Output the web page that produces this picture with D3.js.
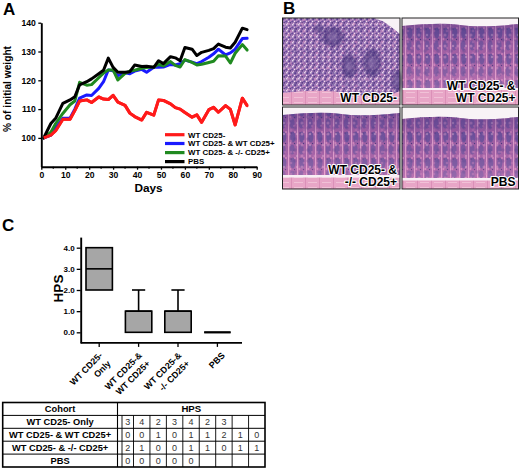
<!DOCTYPE html>
<html><head><meta charset="utf-8">
<script src="https://cdn.jsdelivr.net/npm/d3@7"></script>
<style>
body{margin:0;background:#fff}
svg{display:block}
text{font-family:"Liberation Sans",Arial,Helvetica,sans-serif}
</style>
</head><body>
<svg id="c" width="520" height="470"></svg>
<script>
// ---------- Panel A data ----------
const days      = [1,4,6,9,12,14,16,19,21,24,26,28,30,32,35,37,39,42,44,47,49,51,54,56,58,60,63,65,67,70,72,74,77,79,81,84,86];
const wtNeg     = [100,101,102.5,106.5,106.5,109.5,112.8,113.2,112.3,114.2,113.5,113.3,114.8,112.4,111.3,108.6,107.4,106.2,108.9,107.9,113.2,113,111.8,110.5,110,108.8,107.2,108,105.4,109.8,110.6,108.9,111.2,109.9,104.5,113.8,111.2];
const wtNegWtPos= [100,101,103.5,106.8,106.8,110,113.8,114.9,114.7,117.2,119.5,123.6,123.3,121.6,122.6,122.3,123.2,123.8,122.8,124.5,124.5,124.6,125.5,125.3,125.8,127,126.3,125.8,126.5,128,129.2,130.8,128.8,129.5,130.8,134.5,134.6];
const wtNegKoPos= [100,102,105,108.5,111.5,112.8,119.3,118.3,118.5,120.9,122.5,123.6,123.6,120.1,122.4,123.2,123.5,124.2,124.4,124.6,125.5,125,126.5,125.2,124.6,127.2,126.2,125.3,125.6,126.2,126.6,128.5,128.4,126,129.4,132.4,130.5];
const pbs       = [100,105,106.8,112,113.2,114.3,118.4,119.5,120.5,122.3,123.5,127.7,124.5,122.8,122.8,123,125.3,124.8,124.9,124.5,126.8,125.8,128.2,127.8,126.8,131.4,130.8,128.6,129.7,130.4,131,132.6,131.5,131.2,133.2,138.1,137.6];
const seriesNames = ["WT CD25-","WT CD25- & WT CD25+","WT CD25- & -/- CD25+","PBS"];
const seriesColors = ["#ff1a1a","#1a1aff","#208a20","#000000"];
const xTicksA = [0,10,20,30,40,50,60,70,80,90];
const yTicksA = [100,110,120,130,140];

// ---------- Panel B labels ----------
const histoLabels = [["WT CD25-"],["WT CD25- &","WT CD25+"],["WT CD25- &","-/- CD25+"],["PBS"]];

// ---------- Panel C data ----------
const boxLabels = [["WT CD25-","Only"],["WT CD25-&","WT CD25+"],["WT CD25-&","-/- CD25+"],["PBS"]];
const boxMin = [2,0,0,0];
const boxQ1  = [2,0,0,0];
const boxMed = [3,1,1,0];
const boxQ3  = [4,1,1,0];
const boxMax = [4,2,2,0];
const yTicksC = [0,1,2,3,4];

// ---------- Table data ----------
const tableCohorts = ["WT CD25- Only","WT CD25- & WT CD25+","WT CD25- & -/- CD25+","PBS"];
const tableHPS = [[3,4,2,3,4,2,3],[0,0,1,0,1,1,2,1,0],[2,1,0,0,1,1,0,1,1],[0,0,0,0,0]];

const svg = d3.select("#c");
const F = '"Liberation Sans",Arial,Helvetica,sans-serif';

// ================= Panel A =================
svg.append("text").attr("x",3).attr("y",15).attr("font-size",17).attr("font-weight","bold").text("A");
const xA = d3.scaleLinear().domain([0,90]).range([41.3,256.7]);
const yA = d3.scaleLinear().domain([90,140]).range([166.7,22.7]);

const gAy = svg.append("g").attr("transform","translate(41.3,0)")
  .call(d3.axisLeft(yA).tickValues(yTicksA).tickSize(3).tickSizeOuter(0).tickPadding(2.5));
const gAx = svg.append("g").attr("transform","translate(0,166.7)")
  .call(d3.axisBottom(xA).tickValues(xTicksA).tickSize(3).tickSizeOuter(0).tickPadding(2.5));
gAx.selectAll(".minor").data(d3.range(5,90,10)).enter().append("line")
  .attr("x1",d=>xA(d)).attr("x2",d=>xA(d)).attr("y1",0).attr("y2",2).attr("stroke","#000").attr("stroke-width",1.2);
[gAy,gAx].forEach(g=>{
  g.select(".domain").attr("stroke-width",1.9);
  g.selectAll(".tick line").attr("stroke-width",1.3);
  g.selectAll("text").attr("font-size",8.6).attr("font-weight","bold").attr("font-family",F).attr("fill","#000");
});
svg.append("text").attr("transform","translate(10.5,89) rotate(-90)").attr("text-anchor","middle")
  .attr("font-size",10.2).attr("font-weight","bold").text("% of initial weight");
svg.append("text").attr("x",148.5).attr("y",192).attr("text-anchor","middle")
  .attr("font-size",11.8).attr("font-weight","bold").text("Days");

const lineA = d3.line().x((d,i)=>xA(days[i])).y(d=>yA(d));
const allSeries = [wtNeg,wtNegWtPos,wtNegKoPos,pbs];
allSeries.forEach((s,k)=>{
  svg.append("path").attr("d",lineA(s)).attr("fill","none").attr("stroke",seriesColors[k])
    .attr("stroke-width",3).attr("stroke-linejoin","round").attr("stroke-linecap","round");
});
svg.append("path").attr("d",lineA(wtNeg)).attr("fill","none").attr("stroke",seriesColors[0])
  .attr("stroke-width",3).attr("stroke-linejoin","round");

const legY = [134.7,143.5,152.6,161.6];
seriesNames.forEach((n,k)=>{
  svg.append("line").attr("x1",165).attr("x2",184.5).attr("y1",legY[k]).attr("y2",legY[k])
    .attr("stroke",seriesColors[k]).attr("stroke-width",3.2);
  svg.append("text").attr("x",188).attr("y",legY[k]+2.8).attr("font-size",7.9).attr("font-weight","bold").text(n);
});

// ================= Panel B =================
svg.append("text").attr("x",283).attr("y",14).attr("font-size",17).attr("font-weight","bold").text("B");
const defs = svg.append("defs");
defs.append("filter").attr("id","soft").append("feGaussianBlur").attr("stdDeviation",0.45);
defs.append("filter").attr("id","blob").attr("x","-50%").attr("y","-50%").attr("width","200%").attr("height","200%")
  .append("feGaussianBlur").attr("stdDeviation",1.8);
const sp = defs.append("pattern").attr("id","speck").attr("width",6).attr("height",6).attr("patternUnits","userSpaceOnUse");
sp.append("rect").attr("width",6).attr("height",6).attr("fill","#9f78b6");
[[1.2,1.2,1,"#5a4090"],[4.2,3.4,1,"#684c9a"],[2.2,4.8,0.9,"#4f3680"],[4.8,0.8,0.75,"#fbf3f9"],[0.5,3.4,0.65,"#f5e4f0"],[3,2.3,0.5,"#dca6d0"],[5.4,5.4,0.55,"#efd2e8"]]
  .forEach(c=>sp.append("circle").attr("cx",c[0]).attr("cy",c[1]).attr("r",c[2]).attr("fill",c[3]));
const cr = defs.append("pattern").attr("id","crypt").attr("width",9).attr("height",26).attr("patternUnits","userSpaceOnUse");
cr.append("rect").attr("width",9).attr("height",26).attr("fill","#aa64a8");
cr.append("ellipse").attr("cx",4.8).attr("cy",7).attr("rx",2.6).attr("ry",5.5).attr("fill","#5f4f9c").attr("opacity",0.72);
cr.append("ellipse").attr("cx",4.2).attr("cy",19.5).attr("rx",2.4).attr("ry",5).attr("fill","#6e55a0").attr("opacity",0.72);
[[2.3,13,1,"#dc8ec2"],[7,2,0.9,"#dc8ec2"],[6.5,13.5,0.7,"#4a3880"],[3,3,0.7,"#4a3880"],[6,22,0.8,"#cf80b8"]]
  .forEach(c=>cr.append("circle").attr("cx",c[0]).attr("cy",c[1]).attr("r",c[2]).attr("fill",c[3]));
cr.append("rect").attr("x",0).attr("width",1.1).attr("height",26).attr("fill","#eaa6d0");
const mo = defs.append("pattern").attr("id","mottle").attr("width",13).attr("height",11).attr("patternUnits","userSpaceOnUse");
[[3,2,1.5,"#e6a0cc",0.5],[9,7,1.8,"#54428c",0.35],[11,2,1.2,"#f0c0dc",0.45],[5,9,1.3,"#cf84bd",0.45]]
  .forEach(c=>mo.append("circle").attr("cx",c[0]).attr("cy",c[1]).attr("r",c[2]).attr("fill",c[3]).attr("opacity",c[4]));
const mu = defs.append("pattern").attr("id","muscle").attr("width",14).attr("height",5).attr("patternUnits","userSpaceOnUse");
mu.append("rect").attr("width",14).attr("height",5).attr("fill","#e8a6c7");
mu.append("rect").attr("y",2).attr("width",9).attr("height",0.8).attr("fill","#f4c8dc");
mu.append("rect").attr("x",11).attr("width",0.8).attr("height",5).attr("fill","#d88ab4");
const gr = defs.append("linearGradient").attr("id","surf").attr("x1",0).attr("y1",0).attr("x2",0).attr("y2",1);
gr.append("stop").attr("offset","0%").attr("stop-color","#44307c").attr("stop-opacity",0.45);
gr.append("stop").attr("offset","35%").attr("stop-color","#44307c").attr("stop-opacity",0.1);
gr.append("stop").attr("offset","100%").attr("stop-color","#e9a0cc").attr("stop-opacity",0.25);

const panels = [
  {x:282.5,y:18,w:117.5,h:87},
  {x:402,y:18,w:116.5,h:87},
  {x:282.5,y:107,w:117.5,h:82},
  {x:402,y:107,w:116.5,h:82}
];
(function(){
  const p=panels[0], g=svg.append("g").attr("filter","url(#soft)");
  g.append("rect").attr("x",p.x).attr("y",p.y).attr("width",p.w).attr("height",p.h).attr("fill","url(#speck)");
  g.append("rect").attr("x",p.x).attr("y",p.y).attr("width",p.w).attr("height",p.h).attr("fill","url(#mottle)");
  g.append("path").attr("d",`M${p.x+92},${p.y} L${p.x+p.w},${p.y} L${p.x+p.w},${p.y+16} Q${p.x+108},${p.y+8} ${p.x+100},${p.y+3} Q${p.x+96},${p.y+2} ${p.x+92},${p.y}Z`).attr("fill","#f7f2f6");
  [[333,37,11,10],[349,66,8,12],[372,63,9,14],[397,81,5,11],[319,29,5,4]].forEach(e=>{
    g.append("ellipse").attr("cx",e[0]).attr("cy",e[1]).attr("rx",e[2]).attr("ry",e[3]).attr("fill","#45307a").attr("opacity",0.6).attr("filter","url(#blob)");
    g.append("ellipse").attr("cx",e[0]).attr("cy",e[1]).attr("rx",e[2]*0.45).attr("ry",e[3]*0.45).attr("fill","#9c80b8").attr("opacity",0.5).attr("filter","url(#blob)");
  });
  g.append("path").attr("d",`M${p.x},${p.y+75} Q${p.x+40},${p.y+70} ${p.x+70},${p.y+76} T${p.x+p.w},${p.y+73} L${p.x+p.w},${p.y+p.h} L${p.x},${p.y+p.h}Z`).attr("fill","url(#muscle)");
})();
function cryptPanel(p, topWhite, cryptEnd, whiteLine){
  const g=svg.append("g").attr("filter","url(#soft)");
  g.append("rect").attr("x",p.x).attr("y",p.y).attr("width",p.w).attr("height",p.h).attr("fill","url(#muscle)");
  g.append("rect").attr("x",p.x).attr("y",p.y).attr("width",p.w).attr("height",topWhite+3).attr("fill","#f8f3f6");
  const d=`M${p.x},${p.y+topWhite+2} Q${p.x+p.w/3},${p.y+topWhite-2} ${p.x+p.w/2},${p.y+topWhite+1} T${p.x+p.w},${p.y+topWhite} L${p.x+p.w},${p.y+cryptEnd} L${p.x},${p.y+cryptEnd}Z`;
  g.append("path").attr("d",d).attr("fill","url(#crypt)");
  g.append("path").attr("d",d).attr("fill","url(#mottle)");
  g.append("path").attr("d",d).attr("fill","url(#surf)");
  g.append("rect").attr("x",p.x).attr("y",p.y+cryptEnd).attr("width",p.w).attr("height",whiteLine).attr("fill","#f8eef4");
}
cryptPanel(panels[1],6,70,2);
cryptPanel(panels[2],6,68,2.5);
cryptPanel(panels[3],10,71,2.5);
panels.forEach(p=>svg.append("rect").attr("x",p.x).attr("y",p.y).attr("width",p.w).attr("height",p.h)
  .attr("fill","none").attr("stroke","#222").attr("stroke-width",1));
histoLabels.forEach((lines,k)=>{
  const p=panels[k];
  lines.forEach((t,j)=>{
    svg.append("text").attr("x",p.x+p.w-3).attr("y",p.y+p.h-3-(lines.length-1-j)*12.5)
      .attr("text-anchor","end").attr("font-size",12).attr("font-weight","bold")
      .attr("fill","#000").attr("stroke","#fff").attr("stroke-width",2).attr("paint-order","stroke")
      .attr("stroke-linejoin","round").text(t);
  });
});

// ================= Panel C =================
svg.append("text").attr("x",2).attr("y",231).attr("font-size",17).attr("font-weight","bold").text("C");
const xC = d3.scaleBand().domain(d3.range(boxLabels.length)).range([79.5,237.1]).paddingInner(0.33).paddingOuter(0.165);
const yC = d3.scaleLinear().domain([-0.5,4.5]).range([342.9,237.1]);
const gCy = svg.append("g").attr("transform","translate(80.7,0)")
  .call(d3.axisLeft(yC).tickValues(yTicksC).tickFormat(d3.format(".1f")).tickSize(4).tickSizeOuter(0).tickPadding(2));
const gCx = svg.append("g").attr("transform","translate(0,342.9)")
  .call(d3.axisBottom(xC).tickFormat("").tickSize(4).tickSizeOuter(0));
gCx.select(".domain").attr("d","M80.7,0H242");
[gCy,gCx].forEach(g=>{
  g.select(".domain").attr("stroke-width",1.9);
  g.selectAll(".tick line").attr("stroke-width",1.3);
  g.selectAll("text").attr("font-size",8).attr("font-weight","bold").attr("font-family",F).attr("fill","#000");
});
svg.append("text").attr("transform","translate(63,288.5) rotate(-90)").attr("text-anchor","middle")
  .attr("font-size",13.5).attr("font-weight","bold").text("HPS");

boxLabels.forEach((lines,i)=>{
  const cx = xC(i)+xC.bandwidth()/2, w = xC.bandwidth();
  const g = svg.append("g");
  g.append("line").attr("x1",cx).attr("x2",cx).attr("y1",yC(boxQ3[i])).attr("y2",yC(boxMax[i])).attr("stroke","#000").attr("stroke-width",1.6);
  g.append("line").attr("x1",cx).attr("x2",cx).attr("y1",yC(boxQ1[i])).attr("y2",yC(boxMin[i])).attr("stroke","#000").attr("stroke-width",1.6);
  if(boxMax[i]>boxQ3[i]) g.append("line").attr("x1",cx-w/4).attr("x2",cx+w/4).attr("y1",yC(boxMax[i])).attr("y2",yC(boxMax[i])).attr("stroke","#000").attr("stroke-width",1.6);
  if(boxMin[i]<boxQ1[i]) g.append("line").attr("x1",cx-w/4).attr("x2",cx+w/4).attr("y1",yC(boxMin[i])).attr("y2",yC(boxMin[i])).attr("stroke","#000").attr("stroke-width",1.6);
  if(boxQ3[i]>boxQ1[i]){
    g.append("rect").attr("x",xC(i)).attr("y",yC(boxQ3[i])).attr("width",w).attr("height",yC(boxQ1[i])-yC(boxQ3[i]))
      .attr("fill","#a6a6a6").attr("stroke","#000").attr("stroke-width",1.6);
  } else {
    g.append("line").attr("x1",xC(i)).attr("x2",xC(i)+w).attr("y1",yC(boxQ1[i])).attr("y2",yC(boxQ1[i])).attr("stroke","#222").attr("stroke-width",2.2);
  }
  g.append("line").attr("x1",xC(i)).attr("x2",xC(i)+w).attr("y1",yC(boxMed[i])).attr("y2",yC(boxMed[i])).attr("stroke","#000").attr("stroke-width",1.6);
  const lh = 11.5, n = lines.length;
  const ax = cx + 4 + (2-n)*4, ay = 356;
  lines.forEach((t,j)=>{
    const off = j*lh;
    svg.append("text").attr("transform",`translate(${ax+off*0.707},${ay+off*0.707}) rotate(-45)`)
      .attr("text-anchor","end").attr("font-size",8.9).attr("font-weight","bold").text(t);
  });
});

// ================= Table =================
const tX0=2.7, tX1=265, tY0=402.5, rowH=12.9, cohortW=117.5, firstCellX=122;
const nRows = tableCohorts.length+1;
const tg = svg.append("g");
const cellW = (tX1-133.5)/8;
const cellEdges = [firstCellX, 133.5].concat(d3.range(1,9).map(i=>133.5+i*cellW));
tg.append("rect").attr("x",tX0).attr("y",tY0).attr("width",tX1-tX0).attr("height",rowH*nRows)
  .attr("fill","none").attr("stroke","#000").attr("stroke-width",1.6);
for(let r=1;r<nRows;r++) tg.append("line").attr("x1",tX0).attr("x2",tX1).attr("y1",tY0+r*rowH).attr("y2",tY0+r*rowH).attr("stroke","#000").attr("stroke-width",1);
tg.append("line").attr("x1",cohortW).attr("x2",cohortW).attr("y1",tY0).attr("y2",tY0+nRows*rowH).attr("stroke","#000").attr("stroke-width",1.1);
cellEdges.slice(0,-1).forEach(x=>tg.append("line").attr("x1",x).attr("x2",x).attr("y1",tY0+rowH).attr("y2",tY0+nRows*rowH).attr("stroke","#000").attr("stroke-width",0.9));
tg.append("text").attr("x",(tX0+cohortW)/2).attr("y",tY0+rowH/2).attr("dy","0.36em").attr("text-anchor","middle")
  .attr("font-size",9.3).attr("font-weight","bold").text("Cohort");
tg.append("text").attr("x",(cohortW+tX1)/2).attr("y",tY0+rowH/2).attr("dy","0.36em").attr("text-anchor","middle")
  .attr("font-size",9.6).attr("font-weight","bold").text("HPS");
tableCohorts.forEach((c,r)=>{
  const yc = tY0+(r+1.5)*rowH;
  tg.append("text").attr("x",(tX0+cohortW)/2).attr("y",yc).attr("dy","0.36em").attr("text-anchor","middle")
    .attr("font-size",9.3).attr("font-weight","bold").text(c);
  tableHPS[r].forEach((v,j)=>{
    const xc=(cellEdges[j]+cellEdges[j+1])/2;
    tg.append("text").attr("x",xc).attr("y",yc).attr("dy","0.36em").attr("text-anchor","middle")
      .attr("font-size",9).attr("fill","#333").text(v);
  });
});
</script>
</body></html>
